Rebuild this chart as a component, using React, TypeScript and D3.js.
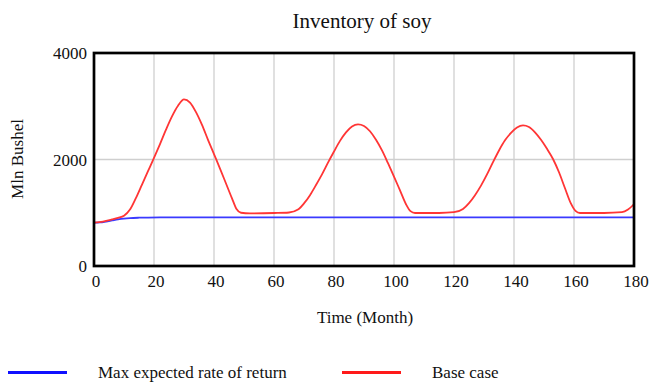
import React from "react";
import * as d3 from "d3";

// Simulated inventory of soy (Mln Bushel) over 180 months
const baseMonths = [
  0, 3, 6, 8, 10, 12, 14, 16, 18, 20, 22, 24, 26, 28, 30, 32, 34, 36, 38, 40, 42, 44, 46, 47.5, 49, 52, 60, 65,
  68, 70, 72, 74, 76, 78, 80, 82, 84, 86, 88, 90, 92, 94, 96, 98, 100, 102, 104, 105.5, 107, 115, 120,
  123, 125, 127, 129, 131, 133, 135, 137, 139, 141, 143, 145, 147, 149, 151, 153, 155, 157, 159, 160.5, 162, 170, 176, 178, 180,
];
const baseCase = [
  813, 835, 875, 905, 945, 1060, 1280, 1530, 1780, 2030, 2290, 2560, 2810, 3010, 3130, 3070, 2890, 2650, 2370, 2100, 1830, 1550, 1270, 1070, 1000, 988, 995, 1005,
  1060, 1175, 1330, 1520, 1720, 1940, 2150, 2350, 2510, 2620, 2660, 2630, 2530, 2370, 2170, 1930, 1680, 1420, 1160, 1030, 995, 995, 1010,
  1070, 1180, 1330, 1510, 1720, 1950, 2170, 2360, 2500, 2600, 2640, 2610, 2510, 2370, 2200, 2010, 1760, 1460, 1170, 1035, 995, 995, 1010, 1060, 1164,
];

const maxMonths = [0, 2, 4, 6, 8, 10, 12, 15, 18, 22, 30, 180];
const maxReturn = [813, 818, 835, 855, 875, 890, 900, 907, 910, 912, 913, 913];

const xTicks = [0, 20, 40, 60, 80, 100, 120, 140, 160, 180];
const yTicks = [0, 2000, 4000];

const legendItems = [
  { label: "Max expected rate of return", color: "#1010ff" },
  { label: "Base case", color: "#ff1a1a" },
];

const W = 666;
const H = 385;
const left = 94;
const right = 634;
const top = 53;
const bottom = 266;
const font = "Liberation Serif, Times New Roman, serif";

export default function App() {
  const x = d3.scaleLinear().domain([0, 180]).range([left, right]);
  const y = d3.scaleLinear().domain([0, 4000]).range([bottom, top]);

  const line = d3
    .line<[number, number]>()
    .x((d) => x(d[0]))
    .y((d) => y(d[1]))
    .curve(d3.curveMonotoneX);

  const baseData = baseMonths.map((m, i) => [m, baseCase[i]] as [number, number]);
  const maxData = maxMonths.map((m, i) => [m, maxReturn[i]] as [number, number]);

  return (
    <svg
      width={W}
      height={H}
      style={{ position: "absolute", left: 0, top: 0, background: "#fff", fontFamily: font }}
    >
      <text x={362} y={28} textAnchor="middle" fontSize={21} fill="#111">
        Inventory of soy
      </text>

      {/* grid */}
      {xTicks.slice(1, -1).map((t) => (
        <line key={"gx" + t} x1={x(t)} x2={x(t)} y1={top} y2={bottom} stroke="#cfcfcf" strokeWidth={1.3} />
      ))}
      {yTicks.slice(1, -1).map((t) => (
        <line key={"gy" + t} x1={left} x2={right} y1={y(t)} y2={y(t)} stroke="#cfcfcf" strokeWidth={1.3} />
      ))}

      <defs>
        <clipPath id="plot">
          <rect x={left} y={top} width={right - left} height={bottom - top} />
        </clipPath>
      </defs>
      <g clipPath="url(#plot)">
        <path d={line(maxData) ?? ""} fill="none" stroke="#3a3aff" strokeWidth={1.8} />
        <path d={line(baseData) ?? ""} fill="none" stroke="#ff3535" strokeWidth={1.8} />
      </g>

      <rect x={left} y={top} width={right - left} height={bottom - top} fill="none" stroke="#000" strokeWidth={2.7} />

      {/* y tick labels */}
      {yTicks.map((t) => (
        <text key={"yl" + t} x={left - 7} y={y(t) + 6} textAnchor="end" fontSize={17} fill="#111">
          {t}
        </text>
      ))}
      {/* x tick labels */}
      {xTicks.map((t) => (
        <text key={"xl" + t} x={x(t) + 2} y={287} textAnchor="middle" fontSize={17} fill="#111">
          {t}
        </text>
      ))}

      <text x={365} y={323} textAnchor="middle" fontSize={17} fill="#111">
        Time (Month)
      </text>
      <text
        transform={`translate(23, 159) rotate(-90)`}
        textAnchor="middle"
        fontSize={17}
        fill="#111"
      >
        Mln Bushel
      </text>

      {/* legend */}
      {legendItems.map((item, i) => {
        const lx = i === 0 ? 8 : 342;
        return (
          <g key={item.label}>
            <line x1={lx} x2={lx + 59} y1={372.5} y2={372.5} stroke={item.color} strokeWidth={3} />
            <text x={lx + 90} y={378} fontSize={17} fill="#111">
              {item.label}
            </text>
          </g>
        );
      })}
    </svg>
  );
}
